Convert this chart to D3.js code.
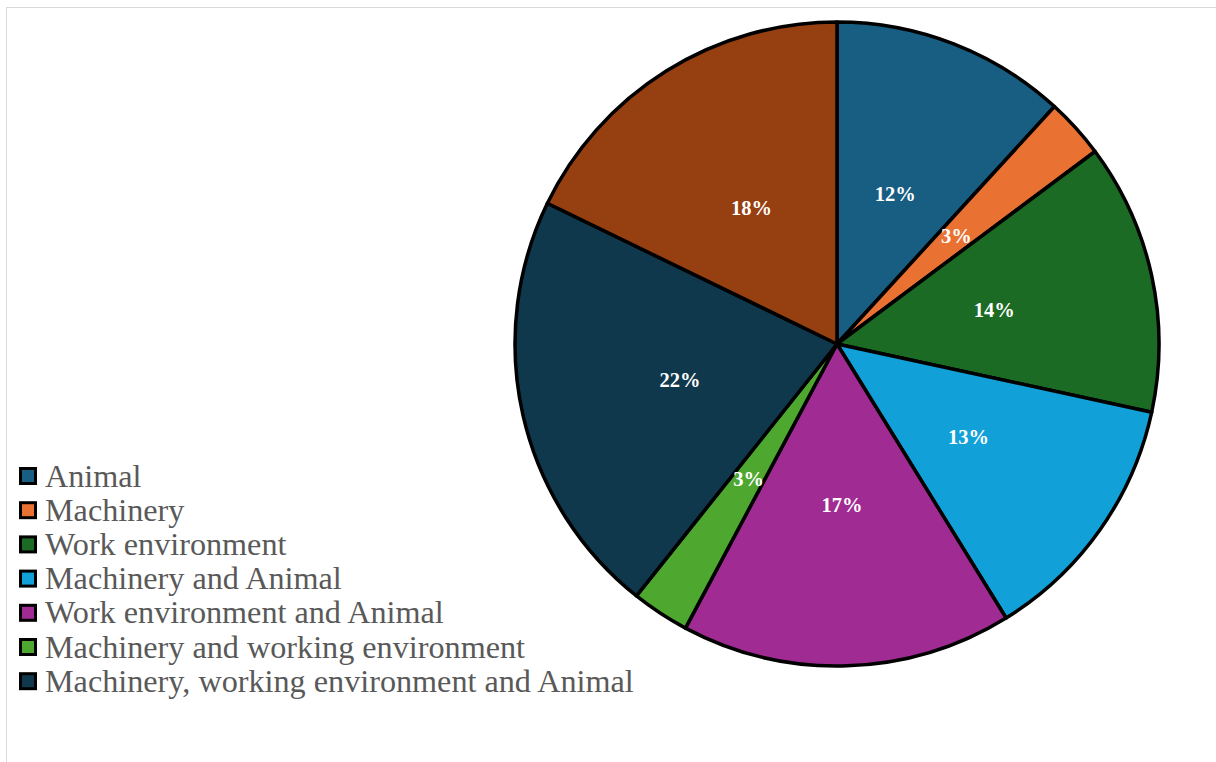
<!DOCTYPE html>
<html>
<head>
<meta charset="utf-8">
<script src="https://cdn.jsdelivr.net/npm/d3@7"></script>
<style>
  body { margin: 0; background: #fff; }
  svg { display: block; }
</style>
</head>
<body>
<svg id="chart"></svg>
<script>
// slices in clockwise order from 12 o'clock
const categories = [
  "Animal",
  "Machinery",
  "Work environment",
  "Machinery and Animal",
  "Work environment and Animal",
  "Machinery and working environment",
  "Machinery, working environment and Animal",
  "Other"
];
const values = [11.8, 3.0, 13.6, 12.8, 16.6, 2.9, 21.5, 17.8];
const colors = ["#175E82", "#E97132", "#1B6B24", "#11A0D8", "#A02B93", "#4EA72E", "#0F384C", "#963F11"];
const legendCount = 7; // the last slice has no legend row in the original

const width = 1216, height = 762;
const cx = 837, cy = 344, radius = 322;

const svg = d3.select("#chart")
  .attr("width", width)
  .attr("height", height);

// chart-area frame, only top and left edges are visible
svg.append("rect")
  .attr("x", 6.5)
  .attr("y", 7.5)
  .attr("width", width + 20)
  .attr("height", height + 20)
  .attr("fill", "none")
  .attr("stroke", "#D9D9D9")
  .attr("stroke-width", 1);

const total = d3.sum(values);
const data = categories.map((c, i) => ({name: c, value: values[i], color: colors[i]}));

const pie = d3.pie()
  .sort(null)
  .value(d => d.value);

const arc = d3.arc()
  .innerRadius(0)
  .outerRadius(radius);

const labelArc = d3.arc()
  .innerRadius(radius * 0.5)
  .outerRadius(radius * 0.5);

const chart = svg.append("g")
  .attr("transform", `translate(${cx}, ${cy})`);

const arcs = pie(data);

chart.selectAll(".slice")
  .data(arcs)
  .enter()
  .append("path")
  .attr("class", "slice")
  .attr("d", arc)
  .style("fill", d => d.data.color)
  .style("stroke", "#000")
  .style("stroke-width", 3.5)
  .style("stroke-linejoin", "round");

chart.selectAll(".pct")
  .data(arcs)
  .enter()
  .append("text")
  .attr("class", "pct")
  .attr("transform", d => `translate(${labelArc.centroid(d)})`)
  .attr("text-anchor", "middle")
  .attr("dy", "0.35em")
  .style("font-family", "'Liberation Serif', 'Times New Roman', serif")
  .style("font-weight", "bold")
  .style("font-size", "20.5px")
  .style("fill", "#fff")
  .text(d => Math.round(d.data.value / total * 100) + "%");

const legend = svg.append("g")
  .attr("transform", "translate(20, 476)");

const rows = legend.selectAll(".row")
  .data(data.slice(0, legendCount))
  .enter()
  .append("g")
  .attr("class", "row")
  .attr("transform", (d, i) => `translate(0, ${i * 34.2})`);

rows.append("rect")
  .attr("x", 0.5)
  .attr("y", -7.5)
  .attr("width", 15)
  .attr("height", 15)
  .style("fill", d => d.color)
  .style("stroke", "#000")
  .style("stroke-width", 3);

rows.append("text")
  .attr("x", 25)
  .attr("y", 0)
  .attr("dy", "0.33em")
  .style("font-family", "'Liberation Serif', 'Times New Roman', serif")
  .style("font-size", "32.2px")
  .style("fill", "#595959")
  .text(d => d.name);
</script>
</body>
</html>
